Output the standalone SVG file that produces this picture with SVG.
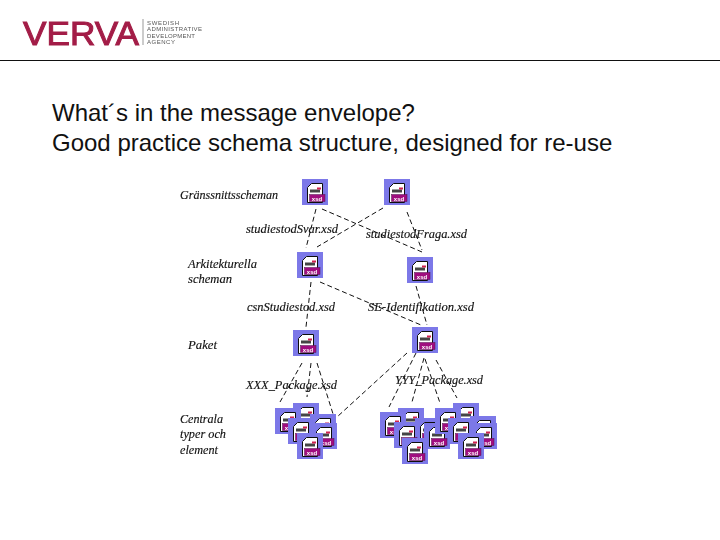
<svg xmlns="http://www.w3.org/2000/svg" width="720" height="540" viewBox="0 0 720 540">
<style>
.t{font-family:"Liberation Sans",Arial,sans-serif;font-size:24px;fill:#111}
.l{font-family:"Liberation Serif","Times New Roman",serif;font-style:italic;font-size:12.5px;fill:#111;stroke:#111;stroke-width:0.15}
.s{font-family:"Liberation Sans",Arial,sans-serif;font-size:6px;fill:#555}
.x{font-family:"Liberation Sans",Arial,sans-serif;font-size:6px;font-weight:bold;fill:#fff;text-anchor:middle}
#connectors line{stroke:#111;stroke-width:1;stroke-dasharray:5 3}
</style>
<defs>
<filter id="b" x="-5%" y="-5%" width="110%" height="110%"><feGaussianBlur stdDeviation="0.35"/></filter>
<g id="icon">
<rect width="26" height="26" fill="#7b78e8"/>
<path d="M9.500 4.500H20.500V23.500H5.500V8.500Z" fill="#fff" stroke="#111"/>
<rect x="8" y="10.500" width="10" height="3" fill="#444"/>
<rect x="15" y="8.500" width="4" height="2" fill="#d02050"/>
<rect x="7.500" y="15.500" width="15.500" height="7" fill="#a0107f" stroke="#50104f" stroke-width="0.500"/>
</g>
</defs>
<rect width="720" height="540" fill="#fff"/>
<g id="logo" filter="url(#b)">
<text x="23" y="45" font-family="Liberation Sans,Arial,sans-serif" font-size="33" fill="#a31f47" stroke="#a31f47" stroke-width="1" textLength="116" lengthAdjust="spacingAndGlyphs">VERVA</text>
<rect x="142.500" y="19" width="1" height="26" fill="#999"/>
<text class="s" x="147" y="24.500" textLength="32" lengthAdjust="spacing">SWEDISH</text>
<text class="s" x="147" y="31" textLength="55" lengthAdjust="spacing">ADMINISTRATIVE</text>
<text class="s" x="147" y="37.500" textLength="48" lengthAdjust="spacing">DEVELOPMENT</text>
<text class="s" x="147" y="44" textLength="28" lengthAdjust="spacing">AGENCY</text>
</g>
<line id="rule" x1="0" y1="60.500" x2="720" y2="60.500" stroke="#111"/>
<text class="t" x="52" y="121">What´s in the message envelope?</text>
<text class="t" x="52" y="151">Good practice schema structure, designed for re-use</text>
<g id="connectors">
<line x1="316" y1="209" x2="306" y2="248"/>
<line x1="322" y1="209" x2="422" y2="252"/>
<line x1="383" y1="208" x2="317" y2="247"/>
<line x1="407" y1="212" x2="422" y2="250"/>
<line x1="311" y1="282" x2="306" y2="327"/>
<line x1="320" y1="282" x2="421" y2="325"/>
<line x1="416" y1="286" x2="427" y2="325"/>
<line x1="302" y1="363" x2="280" y2="402"/>
<line x1="311" y1="363" x2="307" y2="397"/>
<line x1="317" y1="363" x2="334" y2="417"/>
<line x1="407" y1="353" x2="337" y2="417"/>
<line x1="416" y1="353" x2="389" y2="407"/>
<line x1="424" y1="358" x2="412" y2="402"/>
<line x1="425" y1="359" x2="440" y2="403"/>
<line x1="436" y1="360" x2="457" y2="398"/>
</g>
<g id="labels" filter="url(#b)">
<text class="l" x="180" y="199" textLength="98" lengthAdjust="spacingAndGlyphs">Gränssnittsscheman</text>
<text class="l" x="246" y="233" textLength="92" lengthAdjust="spacingAndGlyphs">studiestodSvar.xsd</text>
<text class="l" x="366" y="238" textLength="101" lengthAdjust="spacingAndGlyphs">studiestodFraga.xsd</text>
<text class="l" x="188" y="268" textLength="69" lengthAdjust="spacingAndGlyphs">Arkitekturella</text>
<text class="l" x="188" y="283" textLength="44" lengthAdjust="spacingAndGlyphs">scheman</text>
<text class="l" x="247" y="311" textLength="88" lengthAdjust="spacingAndGlyphs">csnStudiestod.xsd</text>
<text class="l" x="368" y="311" textLength="106" lengthAdjust="spacingAndGlyphs">SE-Identifikation.xsd</text>
<text class="l" x="188" y="349" textLength="29" lengthAdjust="spacingAndGlyphs">Paket</text>
<text class="l" x="246" y="389" textLength="91" lengthAdjust="spacingAndGlyphs">XXX_Package.xsd</text>
<text class="l" x="395" y="384" textLength="88" lengthAdjust="spacingAndGlyphs">YYY_Package.xsd</text>
<text class="l" x="180" y="423" textLength="43" lengthAdjust="spacingAndGlyphs">Centrala</text>
<text class="l" x="180" y="438" textLength="46" lengthAdjust="spacingAndGlyphs">typer och</text>
<text class="l" x="180" y="454" textLength="38" lengthAdjust="spacingAndGlyphs">element</text>
</g>
<g filter="url(#b)">
<g id="n1" transform="translate(302 179)"><use href="#icon"/><text class="x" x="15" y="21.500">xsd</text></g>
<g id="n2" transform="translate(384 179)"><use href="#icon"/><text class="x" x="15" y="21.500">xsd</text></g>
<g id="n3" transform="translate(297 252)"><use href="#icon"/><text class="x" x="15" y="21.500">xsd</text></g>
<g id="n4" transform="translate(407 257)"><use href="#icon"/><text class="x" x="15" y="21.500">xsd</text></g>
<g id="n5" transform="translate(293 330)"><use href="#icon"/><text class="x" x="15" y="21.500">xsd</text></g>
<g id="n6" transform="translate(412 327)"><use href="#icon"/><text class="x" x="15" y="21.500">xsd</text></g>
<g id="a1" transform="translate(293 403)"><use href="#icon"/></g>
<g id="a2" transform="translate(275 408)"><use href="#icon"/><text class="x" x="15" y="21.500">xsd</text></g>
<g id="a3" transform="translate(310 414)"><use href="#icon"/></g>
<g id="a4" transform="translate(311 423)"><use href="#icon"/><text class="x" x="15" y="21.500">xsd</text></g>
<g id="a5" transform="translate(288 418)"><use href="#icon"/><text class="x" x="15" y="21.500">xsd</text></g>
<g id="a6" transform="translate(297 433)"><use href="#icon"/><text class="x" x="15" y="21.500">xsd</text></g>
<g id="b1" transform="translate(398 408)"><use href="#icon"/></g>
<g id="b2" transform="translate(380 412)"><use href="#icon"/><text class="x" x="15" y="21.500">xsd</text></g>
<g id="b3" transform="translate(415 418)"><use href="#icon"/></g>
<g id="b4" transform="translate(424 423)"><use href="#icon"/><text class="x" x="15" y="21.500">xsd</text></g>
<g id="b5" transform="translate(394 422)"><use href="#icon"/><text class="x" x="15" y="21.500">xsd</text></g>
<g id="b6" transform="translate(402 438)"><use href="#icon"/><text class="x" x="15" y="21.500">xsd</text></g>
<g id="c1" transform="translate(453 403)"><use href="#icon"/></g>
<g id="c2" transform="translate(435 408)"><use href="#icon"/><text class="x" x="15" y="21.500">xsd</text></g>
<g id="c3" transform="translate(470 416)"><use href="#icon"/></g>
<g id="c4" transform="translate(471 423)"><use href="#icon"/><text class="x" x="15" y="21.500">xsd</text></g>
<g id="c5" transform="translate(448 418)"><use href="#icon"/><text class="x" x="15" y="21.500">xsd</text></g>
<g id="c6" transform="translate(458 433)"><use href="#icon"/><text class="x" x="15" y="21.500">xsd</text></g>
</g>
</svg>
